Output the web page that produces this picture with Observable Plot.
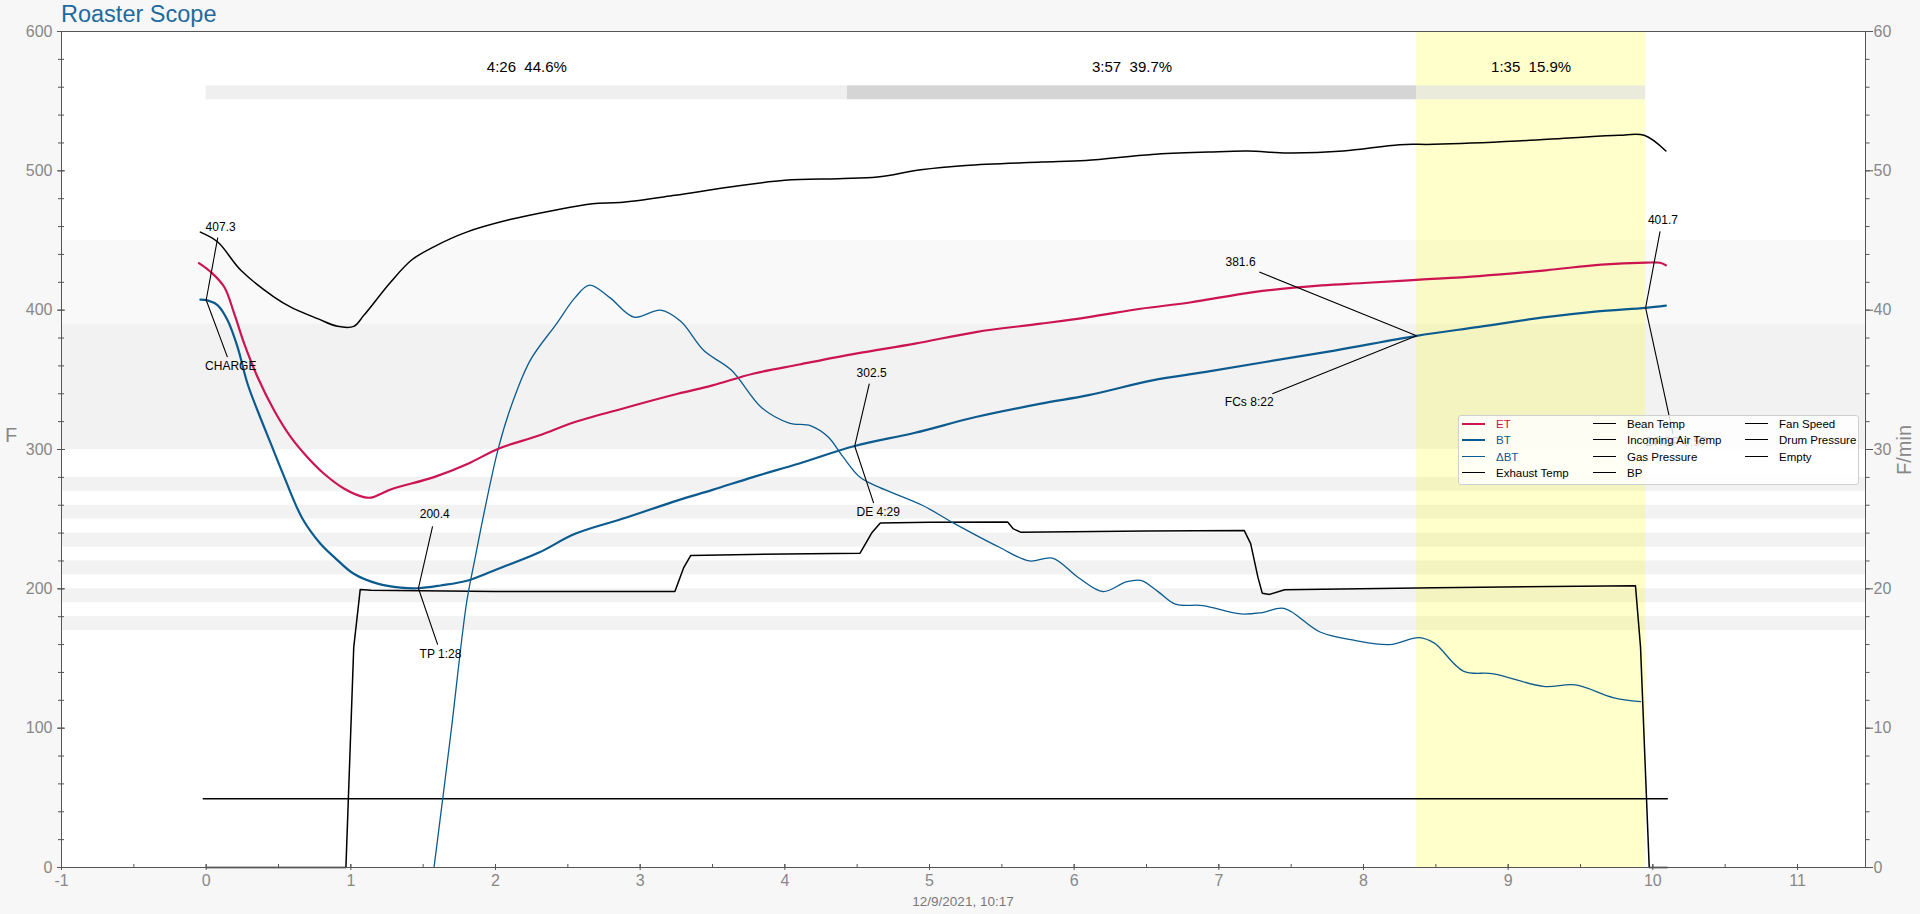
<!DOCTYPE html>
<html>
<head>
<meta charset="utf-8">
<script src="https://cdn.jsdelivr.net/npm/d3@7"></script>
<script src="https://cdn.jsdelivr.net/npm/@observablehq/plot@0.6"></script>
<style>
  html, body { margin: 0; padding: 0; background: #f7f7f7; }
  #wrap { position: relative; width: 1920px; height: 914px; font-family: "Liberation Sans", Arial, sans-serif; }
  #title { position: absolute; left: 61px; top: 0px; font-size: 23.5px; color: #1f6a9e; line-height: 28px; }
  #date { position: absolute; left: 0; width: 1926px; top: 894px; text-align: center; font-size: 13.5px; color: #777; }
  #yl { position: absolute; left: 5px; top: 424px; font-size: 20px; color: #888; }
  #yr { position: absolute; left: 1880px; top: 438px; width: 50px; text-align: center; font-size: 20px; color: #888; transform: rotate(-90deg); transform-origin: 25px 12px; }
  #legend { position: absolute; left: 1458px; top: 415px; width: 399px; height: 68px; background: rgba(255,255,255,0.82); border: 1px solid #cfcfcf; border-radius: 3px; }
  .li { position: absolute; font-size: 11.5px; line-height: 14px; white-space: nowrap; }
  .ls { position: absolute; height: 0; }
  svg { position: absolute; left: 0; top: 0; }
</style>
</head>
<body>
<div id="wrap">
  <div id="title">Roaster Scope</div>
  <div id="yl">F</div>
  <div id="yr">F/min</div>
  <div id="date">12/9/2021, 10:17</div>
</div>
<script>
// ---------- data ----------
// ET (F)
const etT = [-0.05, 0.032, 0.125, 0.194, 0.263, 0.355, 0.47, 0.585, 0.70, 0.815, 0.955, 1.09, 1.15, 1.21, 1.28, 1.575, 1.81, 2.02, 2.3, 2.55, 2.9, 3.26, 3.5, 3.78, 4.1, 4.49, 4.9, 5.32, 5.77, 6.1, 6.46, 6.8, 7.24, 7.71, 8.0, 8.39, 8.8, 9.26, 9.645, 9.955, 10.05, 10.09];
const etV = [433.8, 427.4, 416.6, 397.5, 375.9, 352, 328, 308.9, 294.5, 282.6, 271.8, 265.8, 265.6, 268.3, 271.5, 280.2, 289.8, 300.6, 310, 319.7, 330, 340, 346, 354.4, 361, 368.8, 376, 384.3, 390.3, 395, 401, 405.5, 413, 417.8, 419.5, 421.9, 424.5, 428.6, 432.7, 434.1, 434, 432.2];
// BT (F)
const btT = [-0.04, 0.01, 0.08, 0.148, 0.217, 0.286, 0.355, 0.447, 0.54, 0.665, 0.79, 0.885, 1.02, 1.185, 1.345, 1.467, 1.62, 1.81, 2.02, 2.3, 2.55, 2.9, 3.26, 3.5, 3.78, 4.1, 4.483, 4.9, 5.32, 5.77, 6.1, 6.54, 6.9, 7.32, 7.8, 8.367, 8.8, 9.26, 9.6, 9.95, 10.09];
const btV = [407.5, 407, 403.4, 392.7, 373.5, 347.2, 328, 304.2, 280.2, 250.5, 232.4, 222.8, 210.8, 203.7, 200.8, 200.4, 202.4, 206, 214.4, 226, 239.5, 251, 263.5, 271, 280.2, 290, 302.5, 312, 323.3, 332.9, 339, 349.6, 355.5, 362.8, 371, 381.6, 388, 395, 399, 401.7, 403.2];
// Delta BT (F/min)
const rorT = [1.575, 1.69, 1.8, 1.855, 1.93, 2.02, 2.115, 2.24, 2.42, 2.55, 2.65, 2.79, 2.958, 3.14, 3.28, 3.44, 3.63, 3.84, 4.03, 4.18, 4.30, 4.40, 4.52, 4.65, 4.95, 5.17, 5.48, 5.69, 5.85, 6.03, 6.20, 6.36, 6.46, 6.58, 6.70, 6.89, 7.15, 7.30, 7.45, 7.70, 7.94, 8.18, 8.385, 8.49, 8.69, 8.90, 9.245, 9.465, 9.725, 9.915];
const rorV = [0, 9.5, 19, 22, 25.9, 30.1, 33.3, 36.4, 39, 40.9, 41.8, 40.9, 39.5, 40, 39.2, 37.1, 35.7, 33, 31.9, 31.7, 30.9, 29.5, 28, 27.3, 26, 24.7, 23, 22, 22.2, 20.8, 19.8, 20.5, 20.6, 19.8, 18.9, 18.8, 18.2, 18.3, 18.6, 16.9, 16.3, 16.0, 16.5, 16.1, 14.1, 13.9, 13.0, 13.1, 12.2, 11.9];
// Exhaust Temp (F)
const exT = [-0.04, 0.08, 0.24, 0.47, 0.585, 0.77, 0.908, 1.02, 1.09, 1.276, 1.42, 1.57, 1.80, 2.10, 2.40, 2.67, 2.86, 3.24, 3.62, 4.0, 4.37, 4.64, 4.94, 5.25, 5.77, 6.08, 6.54, 6.93, 7.20, 7.475, 7.86, 8.25, 8.485, 9.065, 9.45, 9.765, 9.94, 10.09];
const exV = [456, 448.9, 428.6, 409.4, 402.2, 393.9, 388.4, 388.4, 396.3, 420.2, 436, 445.3, 456, 465, 471.6, 476.4, 477.2, 482.4, 488.4, 493.2, 494.4, 495.5, 500.8, 503.9, 506.3, 507.5, 511.8, 513.5, 514.2, 512.8, 514.2, 518.8, 519, 521.4, 523.8, 525.5, 525.5, 514.2];
// stepped black series
const stepT = [0, 0.966, 1.02, 1.065, 1.14, 2.0, 3.24, 3.30, 3.35, 4.0, 4.52, 4.60, 4.66, 5.0, 5.54, 5.58, 5.63, 6.5, 7.175, 7.22, 7.27, 7.30, 7.35, 7.455, 8.5, 9.88, 9.915, 9.975, 10.1];
const stepV = [0, 0, 158, 199.6, 198.9, 198, 198.1, 215, 224, 225, 225.6, 240, 247.2, 247.8, 247.9, 243, 240.7, 241.5, 241.9, 232.4, 208.4, 196.9, 196, 199.3, 200.8, 202.2, 158, 0, 0];
// flat black series
const flatT = [-0.02, 10.1];
const flatV = [49.3, 49.3];

// background bands (F)
const bandLo = [170, 190, 210, 230, 250, 270, 300];
const bandHi = [180, 200, 220, 240, 260, 280, 390];
const upperBandLo = [390];
const upperBandHi = [450];

// phases
const phaseStart = [0, 4.433, 8.367];
const phaseEnd = [4.433, 8.367, 9.95];
const phaseDur = ["4:26", "3:57", "1:35"];
const phasePct = ["44.6%", "39.7%", "15.9%"];
const phaseBarLo = 551, phaseBarHi = 561, phaseTextF = 574.5;

// events
const evName = ["CHARGE", "TP 1:28", "DE 4:29", "FCs 8:22", "DROP 9:57"];
const evT = [0, 1.467, 4.483, 8.367, 9.95];
const evBT = [407.3, 200.4, 302.5, 381.6, 401.7];
const valLabelT = [0.1, 1.58, 4.6, 7.15, 10.07];
const valLabelF = [459.7, 253.4, 354.8, 434.1, 464.5];
const valLineT = [0.08, 1.565, 4.584, 7.28, 10.05];
const valLineF = [452, 244.8, 347.2, 427.4, 456.6];
const evLabelT = [0.17, 1.62, 4.645, 7.21, 10.16];
const evLabelF = [359.9, 153.4, 255, 334, 305.3];
const evLineT = [0.147, 1.6, 4.614, 7.37, 10.14];
const evLineF = [366.3, 160, 261.5, 340, 311];

// axes
const xMajor = d3.range(-1, 12, 1);
const xMinor = d3.range(-1, 11.5, 0.5);
const yMajor = d3.range(0, 601, 100);
const yMinor = d3.range(0, 601, 20);

// legend
const legendCols = [
  ["ET", "BT", "\u0394BT", "Exhaust Temp"],
  ["Bean Temp", "Incoming Air Temp", "Gas Pressure", "BP"],
  ["Fan Speed", "Drum Pressure", "Empty"]
];

// ---------- styles ----------
const ET_COLOR = "#cc1450";
const BT_COLOR = "#0c5b8f";
const phaseFill = ["#efefef", "#d5d5d5", "#ebebdc"];

const toPts = (T, V) => T.map((t, i) => ({t, v: V[i]}));
const et = toPts(etT, etV), bt = toPts(btT, btV), ror = toPts(rorT, rorV);
const ex = toPts(exT, exV), step = toPts(stepT, stepV), flat = toPts(flatT, flatV);
const bands = bandLo.map((lo, i) => ({lo, hi: bandHi[i]}));
const upper = upperBandLo.map((lo, i) => ({lo, hi: upperBandHi[i]}));
const phases = phaseStart.map((s, i) => ({s, e: phaseEnd[i], label: phaseDur[i] + "\u00a0\u00a0" + phasePct[i], i}));
const events = evName.map((n, i) => ({
  name: n, t: evT[i], bt: evBT[i], val: evBT[i].toFixed(1),
  vt: valLabelT[i], vf: valLabelF[i], vlt: valLineT[i], vlf: valLineF[i],
  et: evLabelT[i], ef: evLabelF[i], elt: evLineT[i], elf: evLineF[i]
}));

const FONT = "Liberation Sans, Arial, sans-serif";
const chart = Plot.plot({
  width: 1920, height: 914,
  marginLeft: 61, marginRight: 55, marginTop: 31, marginBottom: 47,
  style: {background: "transparent", fontFamily: FONT, overflow: "visible"},
  x: {domain: [-1, 11.47], axis: null, label: null},
  y: {domain: [0, 600], axis: null, label: null},
  marks: [
    Plot.frame({fill: "white"}),
    Plot.rect(upper, {y1: "lo", y2: "hi", fill: "#f9f9f9"}),
    Plot.rect(bands, {y1: "lo", y2: "hi", fill: "#f2f2f2"}),
    Plot.rect([{s: evT[3], e: evT[4]}], {x1: "s", x2: "e", fill: "yellow", fillOpacity: 0.2}),
    Plot.rect(phases, {x1: "s", x2: "e", y1: () => phaseBarLo, y2: () => phaseBarHi, fill: d => phaseFill[d.i]}),
    Plot.text(phases, {x: d => (d.s + d.e) / 2, y: () => phaseTextF, text: "label", fontSize: 15, fill: "black"}),
    Plot.line(flat, {x: "t", y: "v", stroke: "black", strokeWidth: 1.5}),
    Plot.line(step, {x: "t", y: "v", stroke: "black", strokeWidth: 1.5}),
    Plot.line(ex, {x: "t", y: "v", stroke: "black", strokeWidth: 1.5, curve: "catmull-rom"}),
    Plot.line(ror, {x: "t", y: d => d.v * 10, stroke: BT_COLOR, strokeWidth: 1.3, curve: "catmull-rom", clip: true}),
    Plot.line(et, {x: "t", y: "v", stroke: ET_COLOR, strokeWidth: 2.2, curve: "catmull-rom"}),
    Plot.line(bt, {x: "t", y: "v", stroke: BT_COLOR, strokeWidth: 2.2, curve: "catmull-rom"}),
    Plot.link(events, {x1: "vlt", y1: "vlf", x2: "t", y2: "bt", stroke: "black", strokeWidth: 1.1}),
    Plot.link(events, {x1: "elt", y1: "elf", x2: "t", y2: "bt", stroke: "black", strokeWidth: 1.1}),
    Plot.text(events, {x: "vt", y: "vf", text: "val", fontSize: 12, fill: "black"}),
    Plot.text(events, {x: "et", y: "ef", text: "name", fontSize: 12, fill: "black"}),
    Plot.frame({stroke: "#555"}),
    // left axis
    Plot.axisY({anchor: "left", ticks: yMinor, tickSize: 6, dx: 3, text: null, stroke: "#555"}),
    Plot.axisY({anchor: "left", ticks: yMajor, tickSize: 8, dx: 4, text: null, stroke: "#555"}),
    Plot.axisY({anchor: "left", ticks: yMajor, tickSize: 0, tickPadding: 9, fontSize: 16, fill: "#888", tickFormat: d => String(d)}),
    // right axis (F/min)
    Plot.axisY({anchor: "right", ticks: yMinor, tickSize: 3.5, text: null, stroke: "#555"}),
    Plot.axisY({anchor: "right", ticks: yMajor, tickSize: 7, text: null, stroke: "#555"}),
    Plot.axisY({anchor: "right", ticks: yMajor, tickSize: 0, tickPadding: 8, fontSize: 16, fill: "#888", tickFormat: d => String(d / 10)}),
    // bottom axis
    Plot.axisX({anchor: "bottom", ticks: xMinor, tickSize: 3, dy: -3, text: null, stroke: "#555"}),
    Plot.axisX({anchor: "bottom", ticks: xMajor, tickSize: 6, dy: -3, text: null, stroke: "#555"}),
    Plot.axisX({anchor: "bottom", ticks: xMajor, tickSize: 0, tickPadding: 7, fontSize: 16, fill: "#888", tickFormat: d => String(d)})
  ]
});
const wrap = document.getElementById("wrap");
wrap.insertBefore(chart, wrap.firstChild);

// legend
const legend = document.createElement("div");
legend.id = "legend";
const colX = [3, 134, 286];
const rowY = [1, 17, 34, 50];
const styleFor = name => name === "ET" ? {c: ET_COLOR, w: 2.5} : name === "BT" ? {c: BT_COLOR, w: 2.5} : name === "\u0394BT" ? {c: BT_COLOR, w: 1.3} : {c: "black", w: 1.5};
legendCols.forEach((col, ci) => col.forEach((name, ri) => {
  const st = styleFor(name);
  const ls = document.createElement("div");
  ls.className = "ls";
  ls.style.left = colX[ci] + "px";
  ls.style.top = (rowY[ri] + 7 - st.w / 2) + "px";
  ls.style.width = "23px";
  ls.style.borderTop = st.w + "px solid " + st.c;
  legend.appendChild(ls);
  const li = document.createElement("div");
  li.className = "li";
  li.style.left = (colX[ci] + 34) + "px";
  li.style.top = rowY[ri] + "px";
  li.style.color = (ci === 0 && ri < 3) ? st.c : "black";
  li.textContent = name;
  legend.appendChild(li);
}));
wrap.appendChild(legend);
</script>
</body>
</html>
